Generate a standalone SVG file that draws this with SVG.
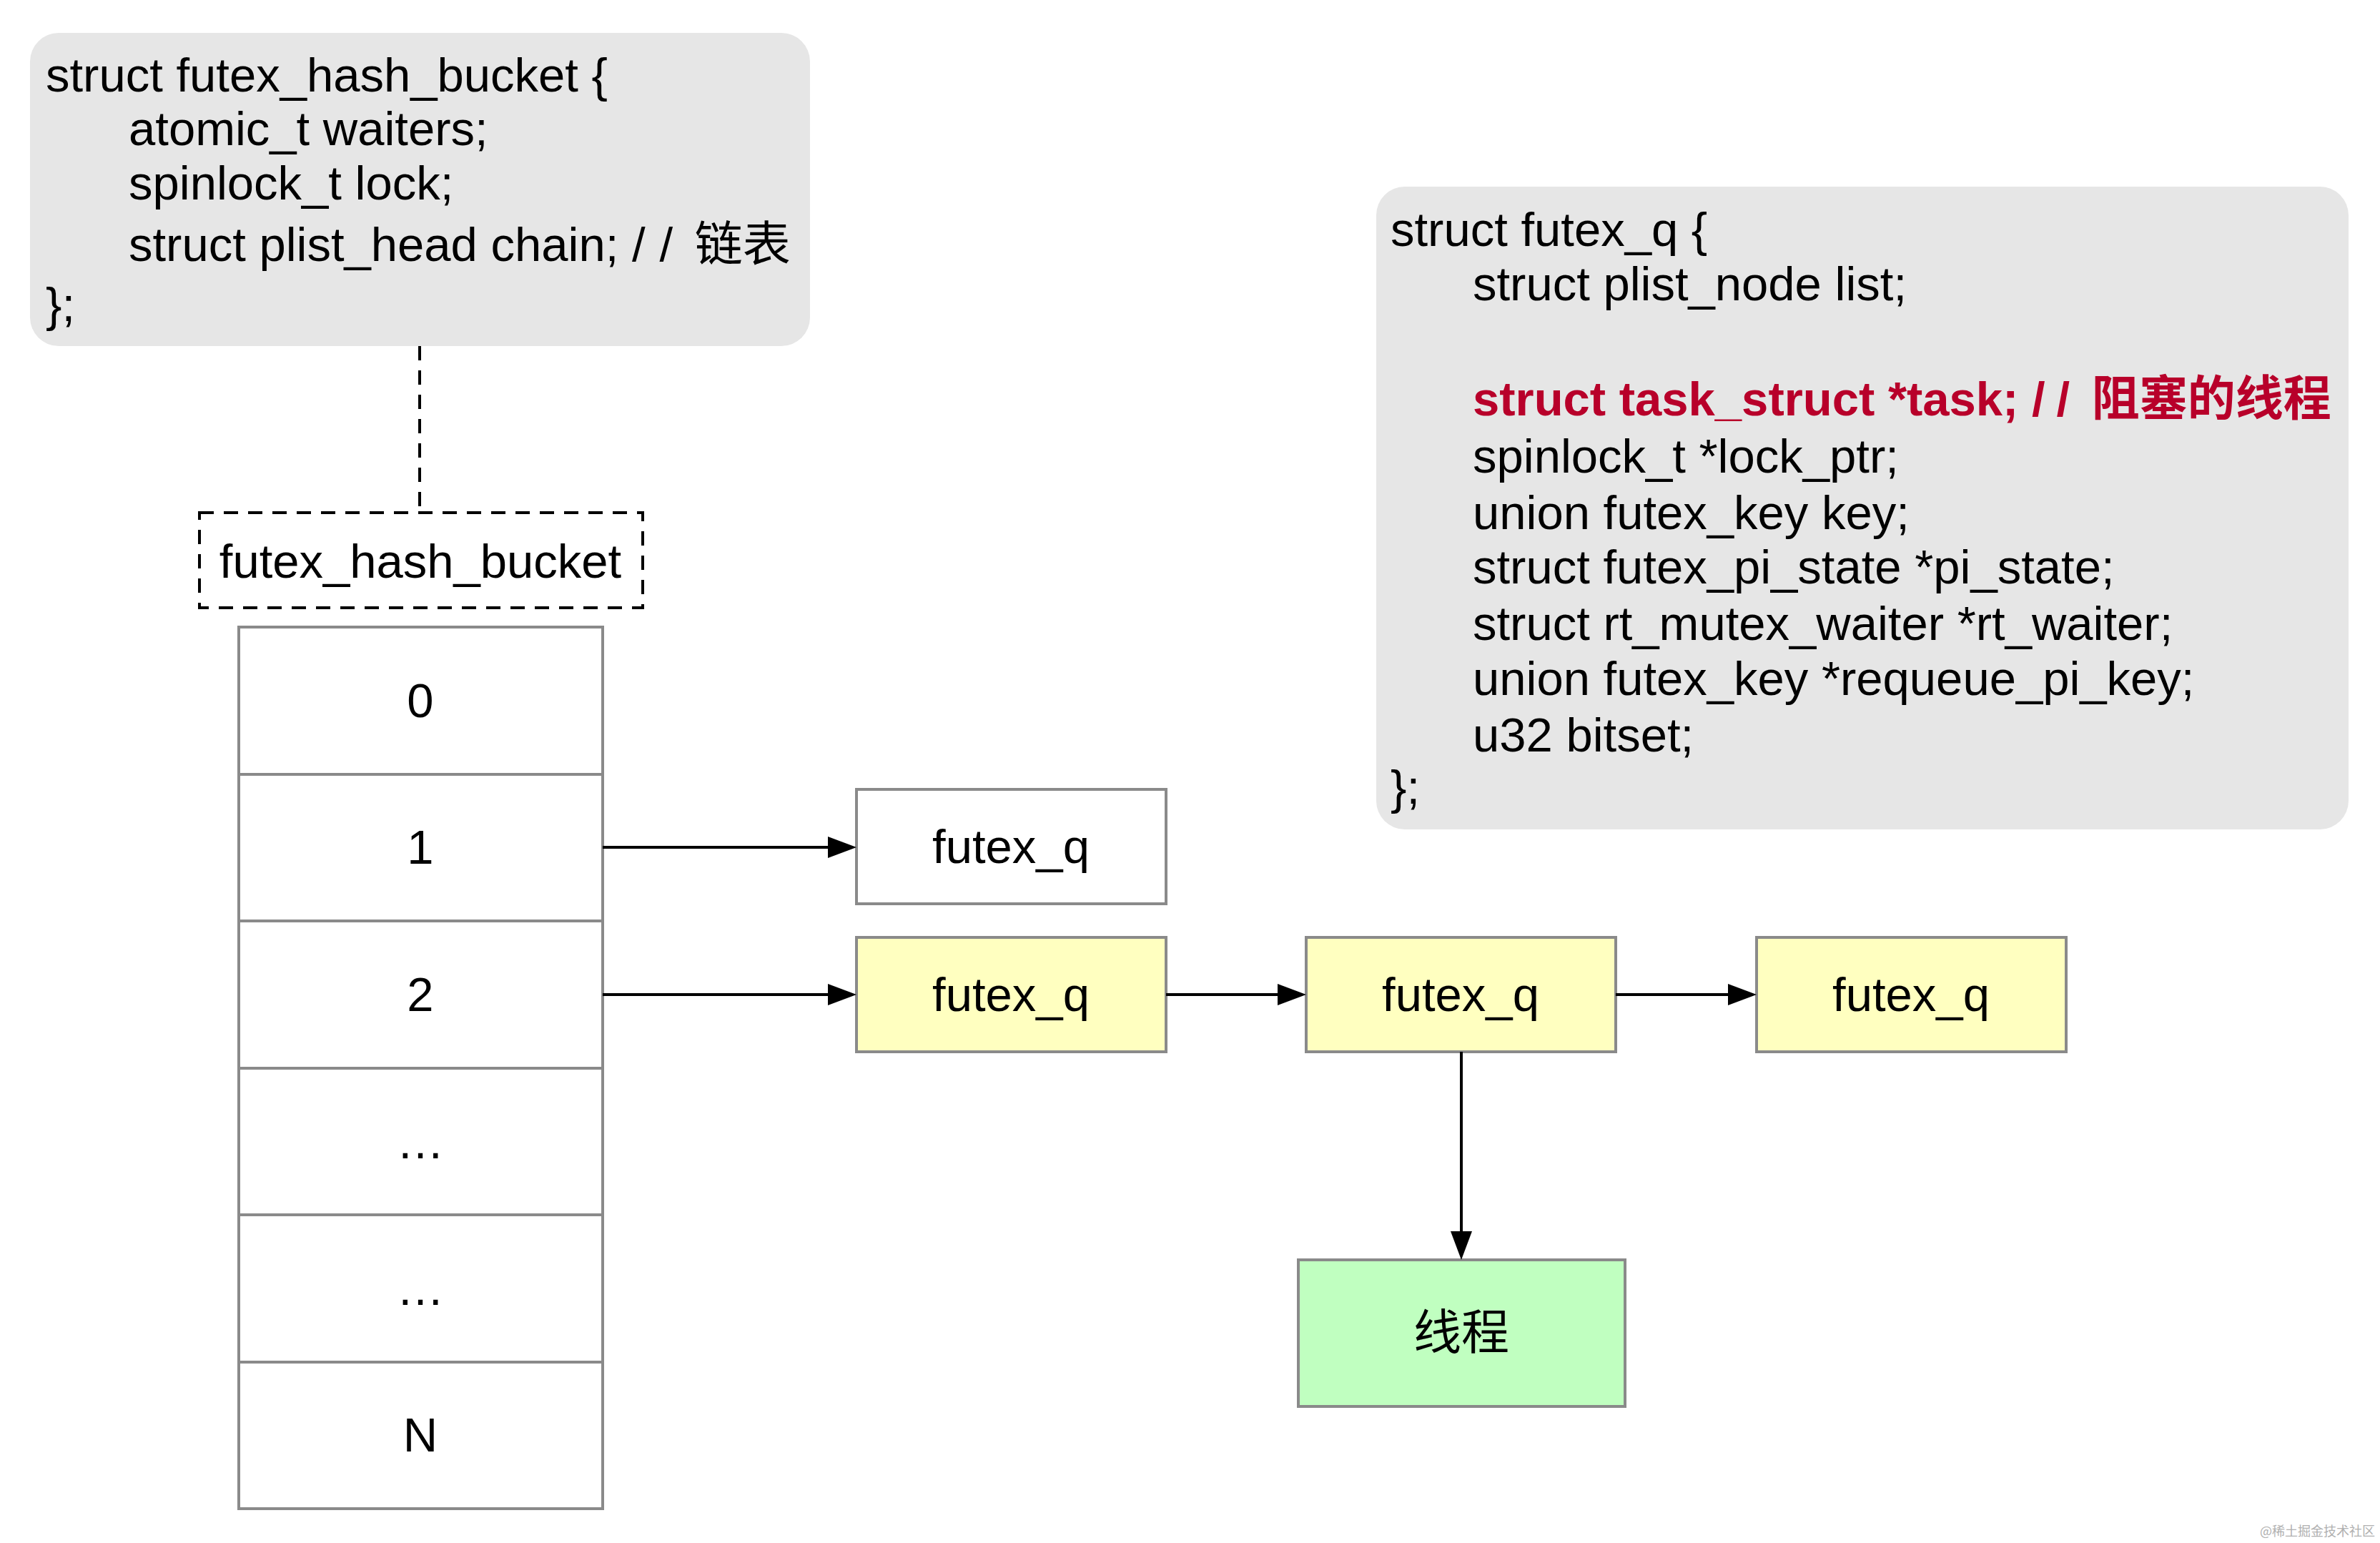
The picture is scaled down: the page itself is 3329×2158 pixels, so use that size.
<svg xmlns="http://www.w3.org/2000/svg" width="3329" height="2158" viewBox="0 0 3329 2158">
  <style>
    text { font-family: "Liberation Sans", "Noto Sans CJK SC", sans-serif; fill: #000; }
    .code { font-size: 67px; }
    .lbl { font-size: 67px; text-anchor: middle; }
    .codebox { fill: #e6e6e6; stroke: none; }
    .cell { fill: #ffffff; stroke: #8a8a8a; stroke-width: 4; }
    .yq { fill: #ffffc0; stroke: #8a8a8a; stroke-width: 4; }
    .wq { fill: #ffffff; stroke: #8a8a8a; stroke-width: 4; }
    .thr { fill: #c0ffc0; stroke: #8a8a8a; stroke-width: 4; }
    .edge { stroke: #000; stroke-width: 4; fill: none; }
    .dash { stroke: #000; stroke-width: 4; fill: none; stroke-dasharray: 20 14; }
    .red { fill: #b8002a; font-weight: bold; }
    .wm { font-family: "Noto Sans CJK SC", sans-serif; font-size: 18px; fill: #b0b0b0; }
  </style>
  <defs>
    <marker id="arrow" markerUnits="userSpaceOnUse" markerWidth="40" markerHeight="30" refX="30" refY="15" orient="auto">
      <path d="M0,0 L40,15 L0,30 z" fill="#000"/>
    </marker>
  </defs>
  <rect width="3329" height="2158" fill="#ffffff"/>

  <g id="bucket-struct">
    <rect class="codebox" x="42" y="46" width="1091" height="438" rx="40" ry="40"/>
    <text class="code" x="64" y="128">struct futex_hash_bucket {</text>
    <text class="code" x="180" y="203">atomic_t waiters;</text>
    <text class="code" x="180" y="279">spinlock_t lock;</text>
    <text class="code" x="180" y="365">struct plist_head chain; /<tspan dx="20">/</tspan><tspan dx="12"> 链表</tspan></text>
    <text class="code" x="64" y="449">};</text>
  </g>

  <g id="futex-q-struct">
    <rect class="codebox" x="1925" y="261" width="1360" height="899" rx="40" ry="40"/>
    <text class="code" x="1945" y="344">struct futex_q {</text>
    <text class="code" x="2060" y="420">struct plist_node list;</text>
    <text class="code red" x="2060" y="581">struct task_struct *task; /<tspan dx="16">/</tspan><tspan dx="12"> 阻塞的线程</tspan></text>
    <text class="code" x="2060" y="661">spinlock_t *lock_ptr;</text>
    <text class="code" x="2060" y="740">union futex_key key;</text>
    <text class="code" x="2060" y="816">struct futex_pi_state *pi_state;</text>
    <text class="code" x="2060" y="895">struct rt_mutex_waiter *rt_waiter;</text>
    <text class="code" x="2060" y="972">union futex_key *requeue_pi_key;</text>
    <text class="code" x="2060" y="1051">u32 bitset;</text>
    <text class="code" x="1945" y="1124">};</text>
  </g>

  <g id="bucket-label">
    <rect x="279" y="717" width="620" height="133" fill="none" stroke="#000" stroke-width="4" stroke-dasharray="20 14"/>
    <text class="lbl" x="588" y="808">futex_hash_bucket</text>
  </g>

  <g id="hash-table">
    <g id="row-0"><rect class="cell" x="334" y="877" width="509" height="206"/><text class="lbl" x="588" y="1003">0</text></g>
    <g id="row-1"><rect class="cell" x="334" y="1083" width="509" height="205"/><text class="lbl" x="588" y="1208">1</text></g>
    <g id="row-2"><rect class="cell" x="334" y="1288" width="509" height="206"/><text class="lbl" x="588" y="1414">2</text></g>
    <g id="row-3"><rect class="cell" x="334" y="1494" width="509" height="205"/><text class="lbl" x="588" y="1620">…</text></g>
    <g id="row-4"><rect class="cell" x="334" y="1699" width="509" height="206"/><text class="lbl" x="588" y="1825">…</text></g>
    <g id="row-5"><rect class="cell" x="334" y="1905" width="509" height="205"/><text class="lbl" x="588" y="2030">N</text></g>
  </g>

  <g id="futex-q-a">
    <rect class="wq" x="1198" y="1104" width="433" height="160"/>
    <text class="lbl" x="1414" y="1207">futex_q</text>
  </g>
  <g id="futex-q-b">
    <rect class="yq" x="1198" y="1311" width="433" height="160"/>
    <text class="lbl" x="1414" y="1414">futex_q</text>
  </g>
  <g id="futex-q-c">
    <rect class="yq" x="1827" y="1311" width="433" height="160"/>
    <text class="lbl" x="2043" y="1414">futex_q</text>
  </g>
  <g id="futex-q-d">
    <rect class="yq" x="2457" y="1311" width="433" height="160"/>
    <text class="lbl" x="2673" y="1414">futex_q</text>
  </g>
  <g id="thread">
    <rect class="thr" x="1816" y="1762" width="457" height="205"/>
    <text class="lbl" x="2044" y="1887">线程</text>
  </g>

  <g id="connectors">
    <line class="dash" x1="587" y1="484" x2="587" y2="717"/>
    <line class="edge" x1="843" y1="1185" x2="1188" y2="1185" marker-end="url(#arrow)"/>
    <line class="edge" x1="843" y1="1391" x2="1188" y2="1391" marker-end="url(#arrow)"/>
    <line class="edge" x1="1631" y1="1391" x2="1817" y2="1391" marker-end="url(#arrow)"/>
    <line class="edge" x1="2260" y1="1391" x2="2447" y2="1391" marker-end="url(#arrow)"/>
    <line class="edge" x1="2044" y1="1471" x2="2044" y2="1752" marker-end="url(#arrow)"/>
  </g>

  <text class="wm" x="3322" y="2148" text-anchor="end">@稀土掘金技术社区</text>
</svg>
